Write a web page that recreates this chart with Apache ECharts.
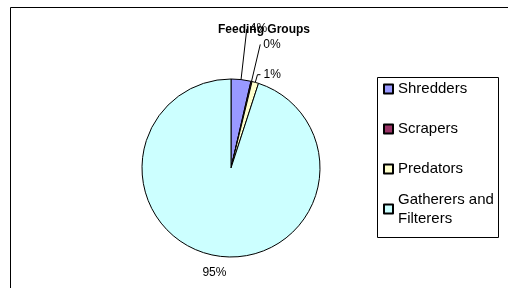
<!DOCTYPE html>
<html><head><meta charset="utf-8">
<script src="https://cdn.jsdelivr.net/npm/echarts@6/dist/echarts.min.js"></script>
<style>html,body{margin:0;padding:0;background:#fff}#c{width:508px;height:288px}</style>
</head><body><div id="c"></div>
<script>
const titleText = 'Feeding Groups';
const categories = ['Shredders', 'Scrapers', 'Predators', 'Gatherers and Filterers'];
const values = [3.6, 0.2, 1.2, 95.0];
const colors = ['#9999FF', '#993366', '#FFFFCC', '#CCFFFF'];
const lineLen = [51, 38, 8, 17];
const lineLen2 = [0, 0, 3, -15];
const showLine = [true, true, true, false];

const chart = echarts.init(document.getElementById('c'), null, {renderer: 'canvas'});
const FONT = 'Liberation Sans, Arial, sans-serif';
const data = categories.map((n, i) => ({
  name: n, value: values[i],
  itemStyle: {color: colors[i]},
  labelLine: {show: showLine[i], length: lineLen[i], length2: lineLen2[i]}
}));
const legendData = categories.map((n, i) => ({
  name: n,
  textStyle: {padding: i === 3 ? [19, 0, 0, 0] : [19, 0, 19, 0]}
}));
chart.setOption({
  animation: false,
  backgroundColor: '#fff',
  title: {
    text: titleText, left: 218, top: 24, padding: 0,
    textStyle: {fontFamily: FONT, fontSize: 12, fontWeight: 'bold', color: '#000'}
  },
  graphic: [
    {type: 'rect', shape: {x: 10.5, y: 7.5, width: 600, height: 400}, style: {fill: 'none', stroke: '#000', lineWidth: 1}, silent: true},
    {type: 'rect', shape: {x: 377.5, y: 77.5, width: 121, height: 160}, style: {fill: 'none', stroke: '#000', lineWidth: 1}, silent: true}
  ],
  legend: {
    orient: 'vertical', left: 383, top: 60.5, padding: 0,
    itemWidth: 9, itemHeight: 9, itemGap: -17, icon: 'rect',
    formatter: n => n === 'Gatherers and Filterers' ? 'Gatherers and\nFilterers' : n,
    textStyle: {fontFamily: FONT, fontSize: 15, lineHeight: 19, color: '#000'},
    data: legendData
  },
  series: [{
    type: 'pie', center: [231, 168], radius: 89, startAngle: 90, clockwise: true,
    avoidLabelOverlap: false,
    labelLayout: {hideOverlap: false},
    itemStyle: {borderColor: '#000', borderWidth: 1},
    label: {show: true, position: 'outside', formatter: p => Math.round(p.value) + '%',
      distanceToLabelLine: 3,
      fontFamily: FONT, fontSize: 12, color: '#000'},
    labelLine: {lineStyle: {color: '#000', width: 1}, smooth: false, maxSurfaceAngle: 180},
    emphasis: {disabled: true},
    data: data
  }]
});
</script></body></html>
